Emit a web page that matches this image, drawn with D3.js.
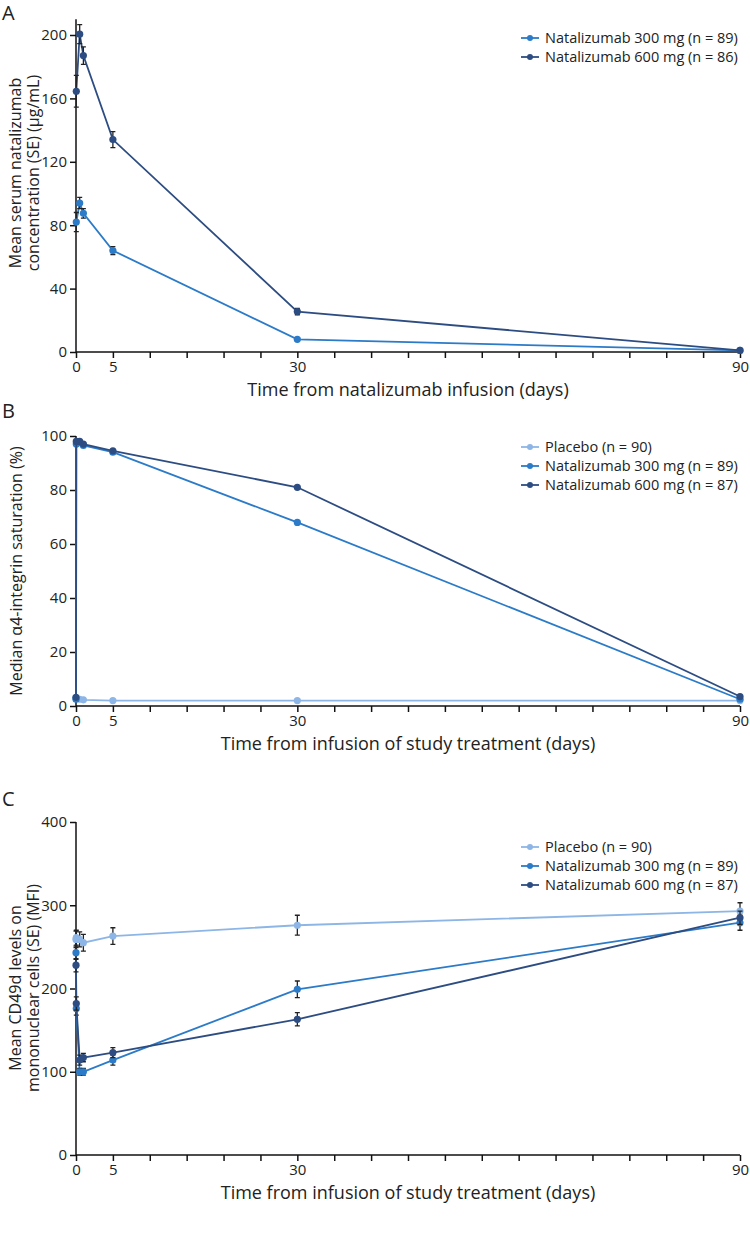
<!DOCTYPE html>
<html><head><meta charset="utf-8">
<script src="https://cdn.jsdelivr.net/npm/d3@7"></script>
<style>body{margin:0;background:#fff}text{font-family:"Open Sans",sans-serif;fill:#222}</style>
</head><body><svg id="c" width="750" height="1234"></svg>
<script>
// ---------- data ----------
const xTickLabels = [0, 5, 30, 90];
const xMinorTicks = d3.range(0, 91, 5);

// Panel A: serum concentration (µg/mL)
const timesA = [0.04, 0.5, 1, 5, 30, 90];
const a300 = [82, 94, 87.5, 64, 8, 1];
const a300se = [6, 3.5, 3, 2.5, 1, 0.5];
const a600 = [164.5, 200.5, 187, 134, 25.5, 1];
const a600se = [10, 6, 5.5, 5, 2, 0.5];
const yTicksA = [0, 40, 80, 120, 160, 200];

// Panel B: median α4-integrin saturation (%)
const timesB = [0, 0.04, 0.5, 1, 5, 30, 90];
const bPlacebo = [3, 2.8, 2.5, 2.3, 2, 2, 2];
const b300 = [2.5, 97, 97.5, 96.5, 94, 68, 2.5];
const b600 = [3.2, 98, 98, 97, 94.5, 81, 3.5];
const yTicksB = [0, 20, 40, 60, 80, 100];

// Panel C: CD49d MFI
const timesC = [0, 0.04, 0.5, 1, 5, 30, 90];
const cPlacebo = [259, 261, 259, 255, 263, 276, 293];
const cPlaceboSe = [10, 9, 9, 10, 10, 12, 10];
const c300 = [243, 176, 100, 100, 114, 199, 279];
const c300se = [8, 8, 4, 4, 6, 10, 9];
const c600 = [228, 182, 114, 117, 123, 163, 285];
const c600se = [8, 8, 6, 5, 6, 8, 8];
const yTicksC = [0, 100, 200, 300, 400];

const colPlacebo = "#8db6e6", col300 = "#2b7bc8", col600 = "#2d4d82";

// ---------- drawing ----------
const svg = d3.select("#c");
const x0 = 76, x1 = 740;

function panel(o) {
  const g = svg.append("g");
  const x = d3.scaleLinear().domain([0, 90]).range([x0, x1]);
  const y = d3.scaleLinear().domain([0, o.ymax]).range([o.yBottom, o.yBottom - (o.yBottom - o.yTopTick) * o.ymax / o.yTickMax]);
  g.append("text").attr("x", 2).attr("y", o.letterY).attr("font-size", 20).text(o.letter);
  // x axis
  const xa = g.append("g").attr("transform", `translate(0,${o.yBottom})`)
    .call(d3.axisBottom(x).tickValues(xMinorTicks).tickSize(6).tickFormat(d => xTickLabels.includes(d) ? d : ""));
  xa.selectAll("text").attr("font-size", 15).attr("font-family", "Open Sans").attr("fill", "#222").attr("dy", "0.7em");
  xa.selectAll("line,path").attr("stroke", "#111").attr("stroke-width", 1.5);
  xa.select("path").attr("d", `M${x0},0H${x1}`);
  // y axis
  const ya = g.append("g").attr("transform", `translate(${x0},0)`)
    .call(d3.axisLeft(y).tickValues(o.yTicks).tickSize(6));
  ya.selectAll("text").attr("font-size", 15).attr("font-family", "Open Sans").attr("fill", "#222");
  ya.selectAll("line,path").attr("stroke", "#111").attr("stroke-width", 1.5);
  ya.select("path").attr("d", `M0,${y(0)}V${y(o.ymax)}`);
  // titles
  g.append("text").attr("x", (x0 + x1) / 2).attr("y", o.yBottom + 44).attr("text-anchor", "middle").attr("font-size", 18).text(o.xTitle);
  o.yTitle.forEach((t, i) => {
    g.append("text").attr("transform", `translate(${o.yTitleX[i]},${o.yTitleY}) rotate(-90)`)
      .attr("text-anchor", "middle").attr("font-size", 16).text(t);
  });
  // series
  o.series.forEach(s => {
    const line = d3.line().x((d, i) => x(s.t[i])).y(d => y(d));
    g.append("path").datum(s.v).attr("d", line).attr("fill", "none").attr("stroke", s.color).attr("stroke-width", 1.8);
    if (s.se) {
      s.v.forEach((v, i) => {
        const cx = x(s.t[i]);
        const lo = y(v - s.se[i]), hi = y(v + s.se[i]);
        g.append("path").attr("d", `M${cx},${lo}V${hi}M${cx - 2.5},${lo}H${cx + 2.5}M${cx - 2.5},${hi}H${cx + 2.5}`)
          .attr("stroke", "#222").attr("stroke-width", 1.3).attr("fill", "none");
      });
    }
    g.selectAll(null).data(s.v).enter().append("circle")
      .attr("cx", (d, i) => x(s.t[i])).attr("cy", d => y(d)).attr("r", 3.6).attr("fill", s.color);
  });
  // legend
  o.series.forEach((s, i) => {
    const ly = o.legendY + i * 19;
    g.append("line").attr("x1", 521).attr("x2", 539).attr("y1", ly).attr("y2", ly).attr("stroke", s.color).attr("stroke-width", 1.8);
    g.append("circle").attr("cx", 530).attr("cy", ly).attr("r", 3).attr("fill", s.color);
    g.append("text").attr("x", 545).attr("y", ly).attr("dy", "0.35em").attr("font-size", 14.5).text(s.name);
  });
}

panel({
  letter: "A", letterY: 20, yBottom: 352, yTopTick: 35, yTickMax: 200, ymax: 210, yTicks: yTicksA,
  xTitle: "Time from natalizumab infusion (days)",
  yTitle: ["Mean serum natalizumab", "concentration (SE) (μg/mL)"], yTitleX: [21, 39], yTitleY: 173,
  legendY: 38,
  series: [
    { name: "Natalizumab 300 mg (n = 89)", t: timesA, v: a300, se: a300se, color: col300 },
    { name: "Natalizumab 600 mg (n = 86)", t: timesA, v: a600, se: a600se, color: col600 }
  ]
});
panel({
  letter: "B", letterY: 418, yBottom: 706, yTopTick: 436, yTickMax: 100, ymax: 100, yTicks: yTicksB,
  xTitle: "Time from infusion of study treatment (days)",
  yTitle: ["Median α4-integrin saturation (%)"], yTitleX: [22], yTitleY: 571,
  legendY: 447,
  series: [
    { name: "Placebo (n = 90)", t: timesB, v: bPlacebo, color: colPlacebo },
    { name: "Natalizumab 300 mg (n = 89)", t: timesB, v: b300, color: col300 },
    { name: "Natalizumab 600 mg (n = 87)", t: timesB, v: b600, color: col600 }
  ]
});
panel({
  letter: "C", letterY: 806, yBottom: 1155, yTopTick: 822, yTickMax: 400, ymax: 400, yTicks: yTicksC,
  xTitle: "Time from infusion of study treatment (days)",
  yTitle: ["Mean CD49d levels on", "mononuclear cells (SE) (MFI)"], yTitleX: [21, 39], yTitleY: 988,
  legendY: 847,
  series: [
    { name: "Placebo (n = 90)", t: timesC, v: cPlacebo, se: cPlaceboSe, color: colPlacebo },
    { name: "Natalizumab 300 mg (n = 89)", t: timesC, v: c300, se: c300se, color: col300 },
    { name: "Natalizumab 600 mg (n = 87)", t: timesC, v: c600, se: c600se, color: col600 }
  ]
});
</script></body></html>
